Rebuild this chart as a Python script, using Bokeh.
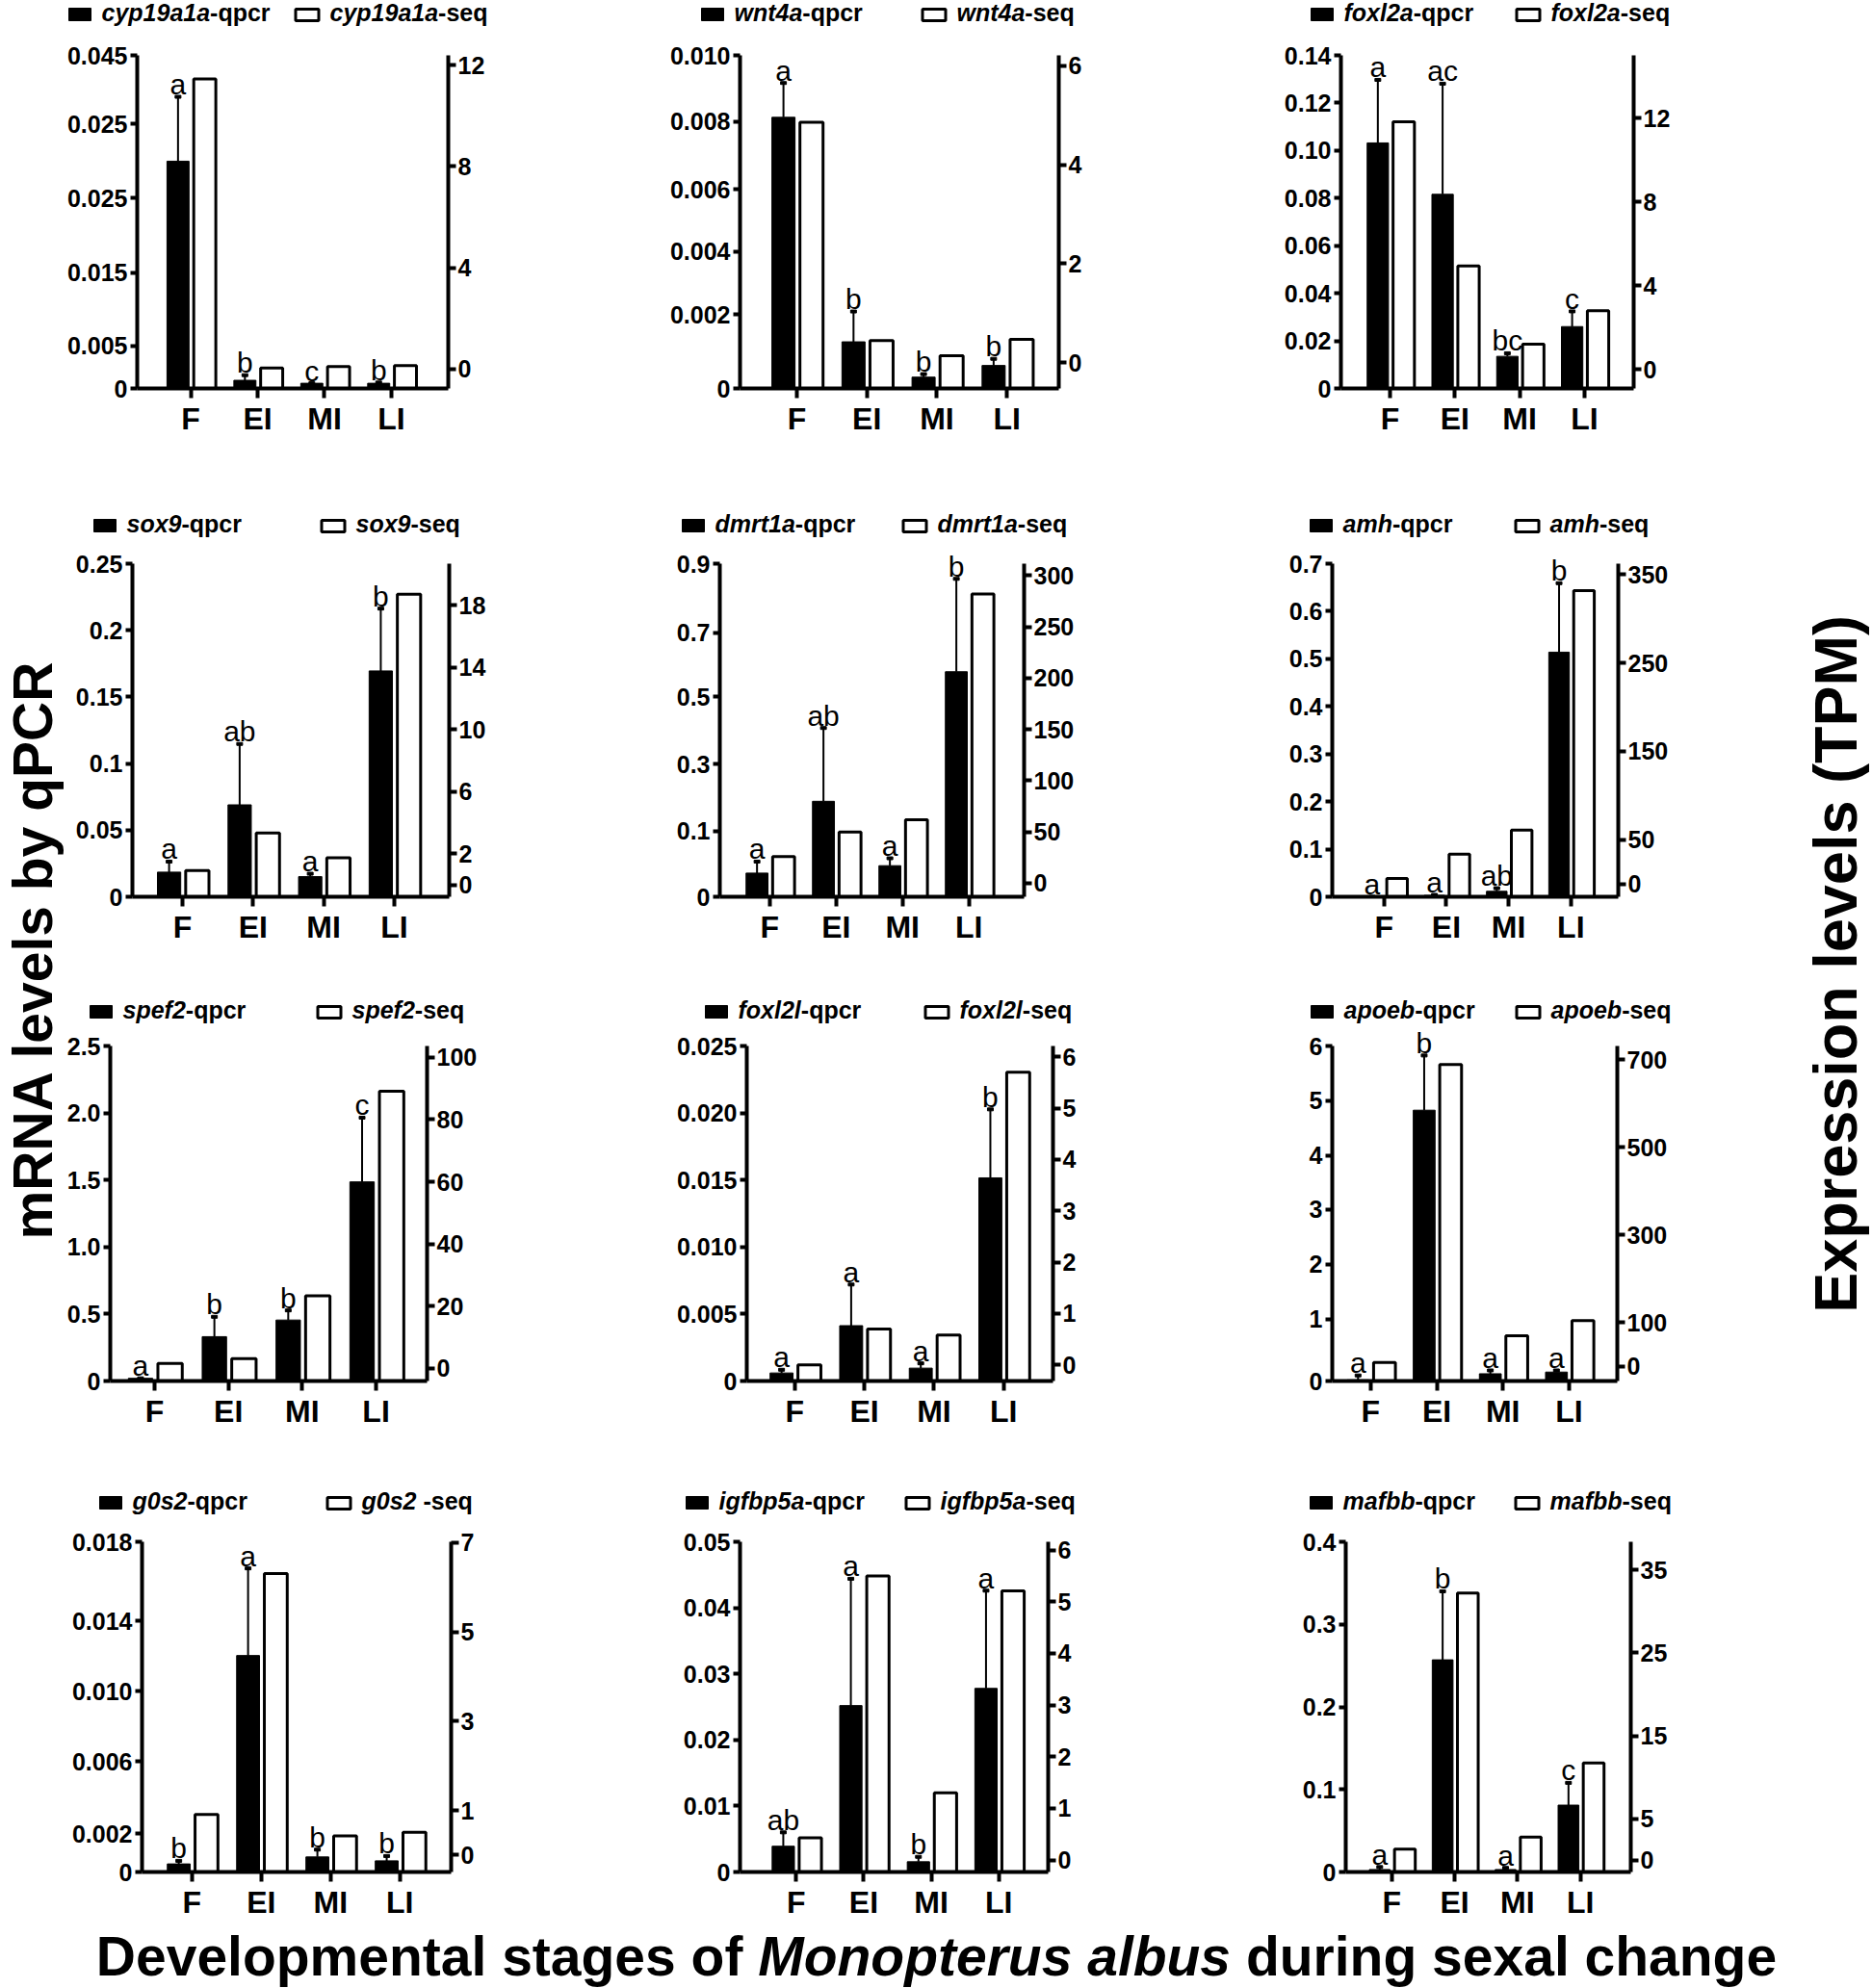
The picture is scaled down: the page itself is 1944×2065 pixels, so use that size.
import math
from bokeh.plotting import figure
from bokeh.models import (Range1d, LinearAxis, FixedTicker, Label, LabelSet,
                          ColumnDataSource)
from bokeh.layouts import row, column
from bokeh.embed import file_html
from bokeh.resources import INLINE
from bokeh.core.properties import value

FONT = "Liberation Sans"

# ---------------- data ----------------
stages = ["F", "EI", "MI", "LI"]

cyp19a1a_qpcr = [0.0307, 0.0011, 0.0007, 0.0007]
cyp19a1a_sd = [0.0087, 0.0007, 0.0, 0.0001]
cyp19a1a_seq = [11.45, 0.05, 0.10, 0.14]
cyp19a1a_sig = ["a", "b", "c", "b"]
cyp19a1a_lticks = [0, 0.00578, 0.01565, 0.02574, 0.03574, 0.045]
cyp19a1a_llabels = ["0", "0.005", "0.015", "0.025", "0.025", "0.045"]
cyp19a1a_rticks = [0, 4, 8, 12]

wnt4a_qpcr = [0.00814, 0.0014, 0.00034, 0.00069]
wnt4a_sd = [0.00103, 0.00091, 0.00009, 0.0002]
wnt4a_seq = [4.86, 0.45, 0.14, 0.47]
wnt4a_sig = ["a", "b", "b", "b"]
wnt4a_lticks = [0, 0.00222, 0.00411, 0.00597, 0.00802, 0.010]
wnt4a_llabels = ["0", "0.002", "0.004", "0.006", "0.008", "0.010"]
wnt4a_rticks = [0, 2, 4, 6]

foxl2a_qpcr = [0.1032, 0.0816, 0.0135, 0.026]
foxl2a_sd = [0.0265, 0.0465, 0.0013, 0.0064]
foxl2a_seq = [11.82, 4.94, 1.20, 2.79]
foxl2a_sig = ["a", "ac", "bc", "c"]
foxl2a_lticks = [0, 0.02, 0.04, 0.06, 0.08, 0.10, 0.12, 0.14]
foxl2a_llabels = ["0", "0.02", "0.04", "0.06", "0.08", "0.10", "0.12", "0.14"]
foxl2a_rticks = [0, 4, 8, 12]

sox9_qpcr = [0.0185, 0.069, 0.0151, 0.1695]
sox9_sd = [0.0079, 0.0457, 0.0022, 0.0468]
sox9_seq = [0.93, 3.34, 1.75, 18.72]
sox9_sig = ["a", "ab", "a", "b"]
sox9_lticks = [0, 0.05, 0.1, 0.15, 0.2, 0.25]
sox9_llabels = ["0", "0.05", "0.1", "0.15", "0.2", "0.25"]
sox9_rticks = [0, 2, 6, 10, 14, 18]

dmrt1a_qpcr = [0.064, 0.258, 0.084, 0.608]
dmrt1a_sd = [0.031, 0.198, 0.020, 0.251]
dmrt1a_seq = [26, 50, 62, 282]
dmrt1a_sig = ["a", "ab", "a", "b"]
dmrt1a_lticks = [0, 0.178, 0.358, 0.540, 0.714, 0.9]
dmrt1a_llabels = ["0", "0.1", "0.3", "0.5", "0.7", "0.9"]
dmrt1a_rticks = [0, 50, 100, 150, 200, 250, 300]

amh_qpcr = [0.0, 0.003, 0.0115, 0.514]
amh_sd = [0.0, 0.001, 0.0065, 0.145]
amh_seq = [6.2, 33.5, 60.9, 331.8]
amh_sig = ["a", "a", "ab", "b"]
amh_lticks = [0, 0.1, 0.2, 0.3, 0.4, 0.5, 0.6, 0.7]
amh_llabels = ["0", "0.1", "0.2", "0.3", "0.4", "0.5", "0.6", "0.7"]
amh_rticks = [0, 50, 150, 250, 350]

spef2_qpcr = [0.02, 0.331, 0.455, 1.486]
spef2_sd = [0.0, 0.148, 0.072, 0.479]
spef2_seq = [1.55, 3.1, 23.3, 89.1]
spef2_sig = ["a", "b", "b", "c"]
spef2_lticks = [0, 0.5, 1.0, 1.5, 2.0, 2.5]
spef2_llabels = ["0", "0.5", "1.0", "1.5", "2.0", "2.5"]
spef2_rticks = [0, 20, 40, 60, 80, 100]

foxl2l_qpcr = [0.0006, 0.00413, 0.00096, 0.01516]
foxl2l_sd = [0.00024, 0.00307, 0.00036, 0.00511]
foxl2l_seq = [0.0, 0.70, 0.58, 5.70]
foxl2l_sig = ["a", "a", "a", "b"]
foxl2l_lticks = [0, 0.005, 0.010, 0.015, 0.020, 0.025]
foxl2l_llabels = ["0", "0.005", "0.010", "0.015", "0.020", "0.025"]
foxl2l_rticks = [0, 1, 2, 3, 4, 5, 6]

apoeb_qpcr = [0.02, 4.85, 0.13, 0.16]
apoeb_sd = [0.08, 0.98, 0.06, 0.03]
apoeb_seq = [8.8, 689, 69.7, 104.2]
apoeb_sig = ["a", "b", "a", "a"]
apoeb_lticks = [0, 1.11, 2.09, 3.07, 4.04, 5.02, 6]
apoeb_llabels = ["0", "1", "2", "3", "4", "5", "6"]
apoeb_rticks = [0, 100, 300, 500, 700]

g0s2_qpcr = [0.00044, 0.0118, 0.00082, 0.00061]
g0s2_sd = [0.00017, 0.00475, 0.0004, 0.00026]
g0s2_seq = [0.91, 6.31, 0.43, 0.51]
g0s2_sig = ["b", "a", "b", "b"]
g0s2_lticks = [0, 0.00209, 0.00601, 0.00984, 0.01368, 0.018]
g0s2_llabels = ["0", "0.002", "0.006", "0.010", "0.014", "0.018"]
g0s2_rticks = [0, 1, 3, 5, 7]

igfbp5a_qpcr = [0.0039, 0.0252, 0.00155, 0.0278]
igfbp5a_sd = [0.0021, 0.0192, 0.00075, 0.0148]
igfbp5a_seq = [0.43, 5.50, 1.30, 5.21]
igfbp5a_sig = ["ab", "a", "b", "a"]
igfbp5a_lticks = [0, 0.01, 0.02, 0.03, 0.04, 0.05]
igfbp5a_llabels = ["0", "0.01", "0.02", "0.03", "0.04", "0.05"]
igfbp5a_rticks = [0, 1, 2, 3, 4, 5, 6]

mafbb_qpcr = [0.003, 0.257, 0.003, 0.081]
mafbb_sd = [0.003, 0.083, 0.002, 0.027]
mafbb_seq = [1.36, 32.2, 2.8, 11.75]
mafbb_sig = ["a", "b", "a", "c"]
mafbb_lticks = [0, 0.1, 0.2, 0.3, 0.4]
mafbb_llabels = ["0", "0.1", "0.2", "0.3", "0.4"]
mafbb_rticks = [0, 5, 15, 25, 35]

PANELS = [
    ("cyp19a1a", "-seq", cyp19a1a_qpcr, cyp19a1a_sd, cyp19a1a_seq, cyp19a1a_sig, cyp19a1a_lticks, cyp19a1a_llabels, cyp19a1a_rticks),
    ("wnt4a", "-seq", wnt4a_qpcr, wnt4a_sd, wnt4a_seq, wnt4a_sig, wnt4a_lticks, wnt4a_llabels, wnt4a_rticks),
    ("foxl2a", "-seq", foxl2a_qpcr, foxl2a_sd, foxl2a_seq, foxl2a_sig, foxl2a_lticks, foxl2a_llabels, foxl2a_rticks),
    ("sox9", "-seq", sox9_qpcr, sox9_sd, sox9_seq, sox9_sig, sox9_lticks, sox9_llabels, sox9_rticks),
    ("dmrt1a", "-seq", dmrt1a_qpcr, dmrt1a_sd, dmrt1a_seq, dmrt1a_sig, dmrt1a_lticks, dmrt1a_llabels, dmrt1a_rticks),
    ("amh", "-seq", amh_qpcr, amh_sd, amh_seq, amh_sig, amh_lticks, amh_llabels, amh_rticks),
    ("spef2", "-seq", spef2_qpcr, spef2_sd, spef2_seq, spef2_sig, spef2_lticks, spef2_llabels, spef2_rticks),
    ("foxl2l", "-seq", foxl2l_qpcr, foxl2l_sd, foxl2l_seq, foxl2l_sig, foxl2l_lticks, foxl2l_llabels, foxl2l_rticks),
    ("apoeb", "-seq", apoeb_qpcr, apoeb_sd, apoeb_seq, apoeb_sig, apoeb_lticks, apoeb_llabels, apoeb_rticks),
    ("g0s2", " -seq", g0s2_qpcr, g0s2_sd, g0s2_seq, g0s2_sig, g0s2_lticks, g0s2_llabels, g0s2_rticks),
    ("igfbp5a", "-seq", igfbp5a_qpcr, igfbp5a_sd, igfbp5a_seq, igfbp5a_sig, igfbp5a_lticks, igfbp5a_llabels, igfbp5a_rticks),
    ("mafbb", "-seq", mafbb_qpcr, mafbb_sd, mafbb_seq, mafbb_sig, mafbb_lticks, mafbb_llabels, mafbb_rticks),
]

# ---------------- layout (page pixel positions) ----------------
LEFT_W = 66
CELL_X = [(66, 640), (640, 1270), (1270, 1800)]
RIGHT_W = 142
ROW_Y = [(0, 498), (498, 995), (995, 1500), (1500, 1998)]
TITLE_H = 66
FRAME_TB = [(57, 403), (585, 931), (1086, 1434), (1601, 1944)]
SPLIT = [35, 563, 1064, 1579]
LEG_BASE = [21, 552, 1057, 1567]
FRAME_LR = [(138, 465), (768, 1099), (1392, 1696),
            (137, 466), (747, 1063), (1383, 1680),
            (113, 443), (775, 1093), (1383, 1679),
            (147, 468), (768, 1088), (1397, 1693)]
XSPAN = [(-0.80, 3.85), (-0.81, 3.74), (-0.76, 3.76),
         (-0.71, 3.78), (-0.75, 3.83), (-0.83, 3.76),
         (-0.60, 3.69), (-0.69, 3.71), (-0.58, 3.73),
         (-0.72, 3.74), (-0.83, 3.73), (-0.73, 3.80)]
RRANGE = [(-0.76, 12.38), (-0.52, 6.21), (-0.92, 15.0),
          (-0.76, 20.68), (-13.2, 311.6), (-14.6, 362.4),
          (-4.14, 103.7), (-0.313, 6.21), (-33.7, 731.5),
          (-0.379, 7.02), (-0.23, 6.16), (-1.40, 38.39)]
LEG_X = [(-67, 167), (-40, 188), (-31, 181),
         (-40, 195), (-39, 189), (-23, 189),
         (-20, 215), (-43, 184), (-22, 190),
         (-44, 191), (-56, 171), (-37, 175)]

ADV = {'a': 556, 'b': 611, 'c': 556, 'd': 611, 'e': 556, 'f': 333, 'g': 611, 'h': 611,
       'i': 278, 'j': 278, 'k': 556, 'l': 278, 'm': 889, 'n': 611, 'o': 611, 'p': 611,
       'q': 611, 'r': 389, 's': 556, 't': 333, 'u': 611, 'v': 556, 'w': 778, 'x': 556,
       'y': 556, 'z': 500, ' ': 278, '-': 333, 'D': 722, 'M': 833, 'E': 667, 'T': 611,
       'P': 667, '(': 333, ')': 333, 'R': 722, 'N': 722, 'A': 722, 'C': 722}


def text_w(s, size):
    return sum(ADV.get(ch, 556) for ch in s) * size / 1000.0


def lead_w(s, size):
    return text_w(s[:len(s) - len(s.lstrip())], size)


def blank_fig(w, h, xr=None, yr=None):
    f = figure(width=w, height=h,
               x_range=Range1d(*(xr if xr else (0, w))),
               y_range=Range1d(*(yr if yr else (0, h))),
               title=None, toolbar_location=None, output_backend="svg",
               min_border_left=0, min_border_right=0, min_border_top=0,
               min_border_bottom=0, x_axis_location=None, y_axis_location=None)
    f.outline_line_color = None
    f.grid.visible = False
    return f


def make_legend_row(r):
    x0, x1 = CELL_X[0][0], CELL_X[-1][1]
    ry0 = ROW_Y[r][0]
    sp = SPLIT[r]
    base = LEG_BASE[r]
    # page-pixel coordinates, y growing downwards
    f = blank_fig(x1 - x0, sp - ry0, xr=(x0, x1), yr=(sp, ry0))
    ymid = base - 0.35 * 25
    for i in range(r * 3, r * 3 + 3):
        gene, seq_sfx = PANELS[i][0], PANELS[i][1]
        L = FRAME_LR[i][0]
        bx, wx = LEG_X[i]
        f.quad(left=[L + bx], right=[L + bx + 23], top=[base - 13], bottom=[base],
               fill_color="black", line_color="black", line_width=1)
        f.quad(left=[L + wx + 1.5], right=[L + wx + 25.5], top=[base - 12], bottom=[base],
               fill_color="white", line_color="black", line_width=3)
        for (sx, suffix) in ((L + bx + 23 + 11, "-qpcr"), (L + wx + 27 + 10, seq_sfx)):
            f.add_layout(Label(x=sx, y=ymid, text=gene, text_font=FONT,
                               text_font_style="bold italic", text_font_size="25px",
                               text_baseline="middle", text_align="left",
                               text_color="black"))
            f.add_layout(Label(x=sx + text_w(gene, 25) + lead_w(suffix, 25), y=ymid,
                               text=suffix.strip(), text_font=FONT, text_font_style="bold",
                               text_font_size="25px", text_baseline="middle",
                               text_align="left", text_color="black"))
    return f


def make_panel(i):
    gene, seq_sfx, qm, qsd, seqv, sig, lt, ll, rt = PANELS[i]
    r, c = divmod(i, 3)
    cx0, cx1 = CELL_X[c]
    ry1 = ROW_Y[r][1]
    sp = SPLIT[r]
    L, R = FRAME_LR[i]
    T, B = FRAME_TB[r]
    xs, xe = XSPAN[i]
    lmax = lt[-1]
    rmin, rmax = RRANGE[i]
    k = (B - sp) / (B - T)
    yend = lmax * k
    rend = rmin + (rmax - rmin) * k
    p = figure(width=cx1 - cx0, height=ry1 - sp, title=None,
               x_range=Range1d(xs, xe), y_range=Range1d(0, yend),
               toolbar_location=None, output_backend="svg",
               min_border_left=L - cx0, min_border_right=cx1 - R,
               min_border_top=0, min_border_bottom=ry1 - B)
    p.outline_line_color = None
    p.grid.visible = False
    p.background_fill_color = "white"
    p.border_fill_color = "white"
    p.extra_y_ranges = {"r": Range1d(rmin, rend)}
    raxis = LinearAxis(y_range_name="r", ticker=FixedTicker(ticks=rt), bounds=(rmin, rmax))
    p.add_layout(raxis, "right")
    xax = p.below[0]
    lax = p.left[0]
    lax.bounds = (0, lmax)
    xax.ticker = FixedTicker(ticks=[0, 1, 2, 3])
    xax.major_label_overrides = {kk: s for kk, s in enumerate(stages)}
    lax.ticker = FixedTicker(ticks=lt)
    lax.major_label_overrides = {v: s for v, s in zip(lt, ll)}
    for ax in (xax, lax, raxis):
        ax.axis_line_width = 4
        ax.axis_line_color = "black"
        ax.major_tick_line_width = 4
        ax.major_tick_line_color = "black"
        ax.major_tick_in = 0
        ax.minor_tick_line_color = None
        ax.major_label_text_font = FONT
        ax.major_label_text_font_style = "bold"
        ax.major_label_text_color = "black"
        ax.major_label_text_font_size = "25px"
    xax.major_tick_out = 10
    xax.major_label_text_font_size = "32px"
    xax.major_label_standoff = 3
    lax.major_tick_out = 7
    lax.major_label_standoff = 3
    raxis.major_tick_out = 8
    raxis.major_label_standoff = 2

    xb = [kk - 0.19 for kk in range(4)]
    xw = [kk + 0.21 for kk in range(4)]
    up = [m + s for m, s in zip(qm, qsd)]
    src = ColumnDataSource(dict(xb=xb, xw=xw, qm=qm, up=up, seq=seqv, sig=sig))
    p.vbar(x="xb", top="qm", bottom=0, width=0.33, source=src,
           fill_color="black", line_color="black", line_width=1)
    p.vbar(x="xw", top="seq", bottom=rmin, width=0.33, source=src, y_range_name="r",
           fill_color="white", line_color="black", line_width=3)
    p.segment(x0="xb", y0="qm", x1="xb", y1="up", source=src,
              line_color="black", line_width=2)
    p.rect(x="xb", y="up", width=6, height=3, width_units="screen", height_units="screen",
           source=src, fill_color="black", line_color="black")
    p.add_layout(LabelSet(x="xb", y="up", text="sig", source=src,
                          text_align="center", text_baseline="middle", y_offset=13,
                          text_font=value(FONT), text_font_size=value("30px"),
                          text_color="black"))
    return p


panels = [make_panel(i) for i in range(12)]
blocks = [column(make_legend_row(r), row(*panels[r * 3:r * 3 + 3])) for r in range(4)]

HTOT = ROW_Y[-1][1] - ROW_Y[0][0]
LS = 57
left_fig = blank_fig(LEFT_W, HTOT)
left_fig.add_layout(Label(x=LEFT_W / 2.0, y=HTOT - 986, text="mRNA levels by qPCR",
                          angle=math.pi / 2, text_font=FONT, text_font_style="bold",
                          text_font_size="%dpx" % LS, text_align="center",
                          text_baseline="middle", text_color="black"))
RS = 63
right_fig = blank_fig(RIGHT_W, HTOT)
right_fig.add_layout(Label(x=RIGHT_W - 0.58 * RS, y=HTOT - 1001,
                           text="Expression levels (TPM)", angle=math.pi / 2,
                           text_font=FONT, text_font_style="bold",
                           text_font_size="%dpx" % RS, text_align="center",
                           text_baseline="middle", text_color="black"))

title_w = LEFT_W + (CELL_X[-1][1] - CELL_X[0][0]) + RIGHT_W
title_fig = blank_fig(title_w, TITLE_H)
TS = 57
parts = [("Developmental stages of ", "bold"), ("Monopterus albus", "bold italic"),
         (" during sexal change", "bold")]
total = sum(text_w(s, TS) for s, _ in parts)
x0 = 972 - total / 2
ty = TITLE_H / 2.0
for s, st in parts:
    title_fig.add_layout(Label(x=x0 + lead_w(s, TS), y=ty, text=s.strip(), text_font=FONT,
                               text_font_style=st, text_font_size="%dpx" % TS,
                               text_align="left", text_baseline="middle",
                               text_color="black"))
    x0 += text_w(s, TS)

layout = column(row(left_fig, column(*blocks), right_fig), title_fig)

open("out.html", "w").write(file_html(layout, INLINE))
